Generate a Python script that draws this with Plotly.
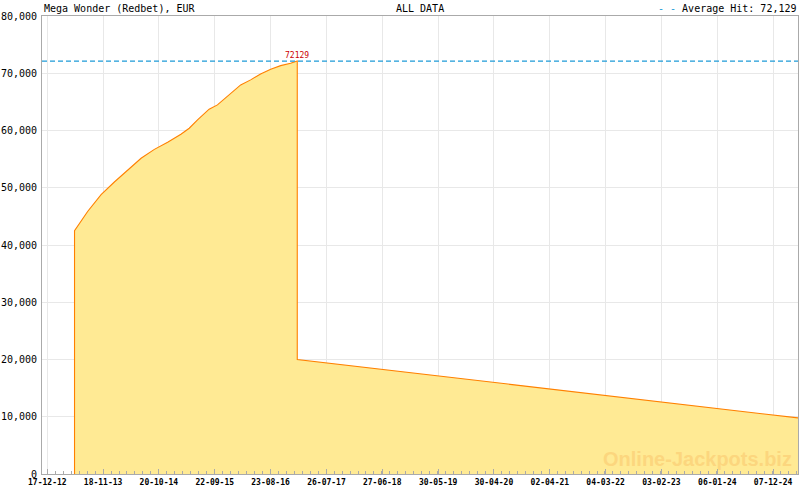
import plotly.graph_objects as go

# ---- data ----
title_text = "Mega Wonder (Redbet), EUR"
subtitle_text = "ALL DATA"
average_hit = 72129

dates = [
    "2013-05-30", "2013-05-30", "2013-08-18", "2013-11-06", "2014-01-25", "2014-04-16",
    "2014-07-05", "2014-09-23", "2014-12-12", "2015-03-02", "2015-04-21",
    "2015-06-10", "2015-08-19", "2015-10-08", "2015-12-27", "2016-02-25",
    "2016-04-25", "2016-06-24", "2016-08-24", "2016-10-23", "2016-12-22",
    "2017-01-31", "2017-01-31", "2025-05-06",
]
values = [
    0, 42500, 45900, 48800, 51000, 53100,
    55150, 56700, 57950, 59350, 60400,
    61850, 63720, 64470, 66510, 67960,
    68840, 69880, 70700, 71330, 71750,
    72129, 20000, 9800,
]

tick_dates = [
    "2012-12-17", "2013-11-18", "2014-10-20", "2015-09-22", "2016-08-23",
    "2017-07-26", "2018-06-27", "2019-05-30", "2020-04-30", "2021-04-02",
    "2022-03-04", "2023-02-03", "2024-01-06", "2024-12-07",
]
tick_labels = [
    "17-12-12", "18-11-13", "20-10-14", "22-09-15", "23-08-16",
    "26-07-17", "27-06-18", "30-05-19", "30-04-20", "02-04-21",
    "04-03-22", "03-02-23", "06-01-24", "07-12-24",
]
y_ticks = [0, 10000, 20000, 30000, 40000, 50000, 60000, 70000, 80000]
x_range = ["2012-11-15", "2025-05-06"]
peak_date = "2017-01-31"

MONO = "DejaVu Sans Mono"

fig = go.Figure()
fig.add_trace(go.Scatter(
    x=dates, y=values, mode="lines",
    line=dict(color="#FF8000", width=1.1),
    fill="tozeroy", fillcolor="#FFEA94",
    hoverinfo="skip", showlegend=False,
))
fig.add_trace(go.Scatter(
    x=x_range, y=[average_hit, average_hit], mode="lines",
    line=dict(color="#1E9BD7", width=1.2, dash="5px,3px"),
    hoverinfo="skip", showlegend=False,
))

fig.update_layout(
    width=800, height=490,
    margin=dict(l=40, r=1, t=16, b=16),
    paper_bgcolor="white", plot_bgcolor="white",
    font=dict(family=MONO, size=10, color="black"),
    xaxis=dict(
        type="date", range=x_range,
        tickmode="array", tickvals=tick_dates, ticktext=tick_labels,
        tickfont=dict(family=MONO, size=8, color="black", weight="bold"),
        ticks="inside", ticklen=5, tickcolor="#aaaaaa",
        minor=dict(ticks="inside", ticklen=3, tickcolor="#aaaaaa",
                   tickmode="linear", tick0="2012-12-17", dtick=48 * 86400000,
                   showgrid=False),
        showgrid=True, gridcolor="#e8e8e8", gridwidth=1,
        showline=True, linecolor="#aaaaaa", linewidth=1, mirror=True,
        zeroline=False,
    ),
    yaxis=dict(
        range=[0, 80000], tickmode="array", tickvals=y_ticks,
        tickformat=",d", tickfont=dict(family=MONO, size=10, color="black"),
        showgrid=True, gridcolor="#e8e8e8", gridwidth=1,
        showline=True, linecolor="#aaaaaa", linewidth=1, mirror=True,
        zeroline=False, ticks="", ticklabelstandoff=2,
    ),
    annotations=[
        dict(text=title_text, xref="paper", yref="paper", x=0, y=1,
             xanchor="left", yanchor="bottom", showarrow=False,
             font=dict(family=MONO, size=10, color="black"), yshift=0),
        dict(text=subtitle_text, xref="paper", yref="paper", x=0.5, y=1,
             xanchor="center", yanchor="bottom", showarrow=False,
             font=dict(family=MONO, size=10, color="black"), yshift=0),
        dict(text='<span style="color:#1E9BD7">- - </span>Average Hit: 72,129',
             xref="paper", yref="paper", x=1, y=1,
             xanchor="right", yanchor="bottom", showarrow=False,
             font=dict(family=MONO, size=10, color="black"), yshift=0),
        dict(text=str(average_hit), x=peak_date, y=average_hit,
             xanchor="center", yanchor="bottom", showarrow=False,
             font=dict(family=MONO, size=8, color="#CC0000"), yshift=-1),
        dict(text="Online-Jackpots.biz", xref="paper", yref="paper",
             x=0.995, y=0.005, xanchor="right", yanchor="bottom", showarrow=False,
             font=dict(family="Liberation Sans", size=20, color="#FCD67E", weight="bold")),
    ],
)

fig.write_html(
    "out.html",
    config={"displayModeBar": False},
    post_script="document.body.style.margin='0';document.body.style.overflow='hidden';",
)
